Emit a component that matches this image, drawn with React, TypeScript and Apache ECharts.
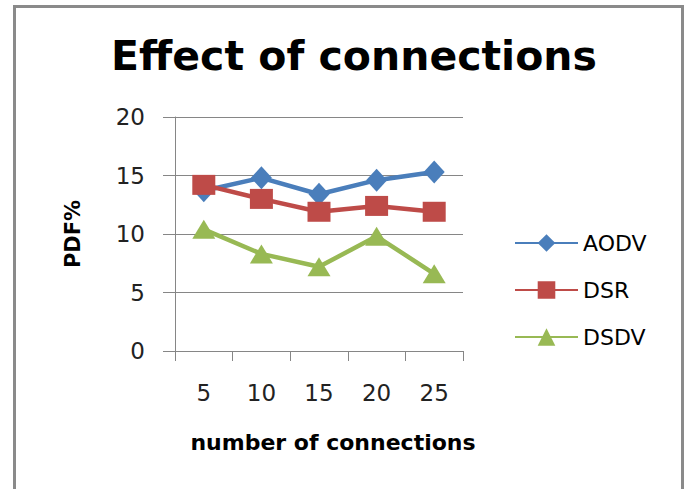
import React, { useEffect, useRef } from "react";
import * as echarts from "echarts";

const categories = ["5", "10", "15", "20", "25"];
const aodv = [13.7, 14.8, 13.4, 14.6, 15.3];
const dsr = [14.2, 13.0, 11.9, 12.4, 11.9];
const dsdv = [10.4, 8.3, 7.2, 9.8, 6.6];

const FONT = "'DejaVu Sans', Verdana, sans-serif";

export default function App() {
  const ref = useRef<HTMLDivElement>(null);

  useEffect(() => {
    if (!ref.current) return;
    const chart = echarts.init(ref.current, undefined, { renderer: "svg" });
    const grey = "#868686";
    const lineSeries = (
      name: string,
      data: number[],
      color: string,
      symbol: string,
      size: number | number[]
    ) => ({
      name,
      type: "line",
      data,
      symbol,
      symbolSize: size,
      showAllSymbol: true,
      lineStyle: { color, width: 4.5 },
      itemStyle: { color },
      emphasis: { disabled: true },
    });
    chart.setOption({
      animation: false,
      backgroundColor: "#ffffff",
      textStyle: { fontFamily: FONT },
      title: {
        text: "Effect of connections",
        left: 349,
        top: 30,
        textAlign: "center",
        textStyle: { fontFamily: FONT, fontWeight: "bold", fontSize: 41, color: "#000" },
      },
      graphic: [
        {
          type: "rect",
          shape: { x: 14.5, y: 6.5, width: 668, height: 500 },
          style: { fill: "none", stroke: "#8a8a8a", lineWidth: 3 },
          silent: true,
        },
      ],
      legend: {
        orient: "vertical",
        left: 509,
        top: 227,
        itemWidth: 63,
        itemHeight: 22,
        itemGap: 25,
        itemTextGap: 6,
        textStyle: { fontFamily: FONT, fontSize: 22, color: "#000" },
        data: ["AODV", "DSR", "DSDV"],
      },
      grid: { left: 175, right: 225, top: 117, bottom: 138 },
      xAxis: {
        type: "category",
        data: categories,
        boundaryGap: true,
        name: "number of connections",
        nameLocation: "middle",
        nameGap: 80,
        nameTextStyle: {
          fontFamily: FONT,
          fontWeight: "bold",
          fontSize: 22,
          color: "#000",
          padding: [0, 0, 0, 28],
        },
        axisLine: { lineStyle: { color: grey, width: 1 } },
        axisTick: { show: true, length: 10, lineStyle: { color: grey } },
        axisLabel: { margin: 30, fontFamily: FONT, fontSize: 23, color: "#222" },
      },
      yAxis: {
        type: "value",
        min: 0,
        max: 20,
        interval: 5,
        name: "PDF%",
        nameLocation: "middle",
        nameRotate: 90,
        nameGap: 92,
        nameTextStyle: { fontFamily: FONT, fontWeight: "bold", fontSize: 21, color: "#000" },
        axisLine: { show: true, lineStyle: { color: grey, width: 1 } },
        axisTick: { show: true, length: 12, lineStyle: { color: grey } },
        axisLabel: { margin: 30, fontFamily: FONT, fontSize: 23, color: "#222" },
        splitLine: { show: true, lineStyle: { color: grey, width: 1 } },
      },
      series: [
        lineSeries("AODV", aodv, "#4a7ebb", "diamond", [21, 23]),
        lineSeries("DSR", dsr, "#be4b48", "rect", [23, 20]),
        lineSeries("DSDV", dsdv, "#98b954", "triangle", [23, 19]),
      ],
    });
    return () => chart.dispose();
  }, []);

  return (
    <div
      ref={ref}
      style={{ position: "fixed", left: 0, top: 0, width: 688, height: 489 }}
    />
  );
}
